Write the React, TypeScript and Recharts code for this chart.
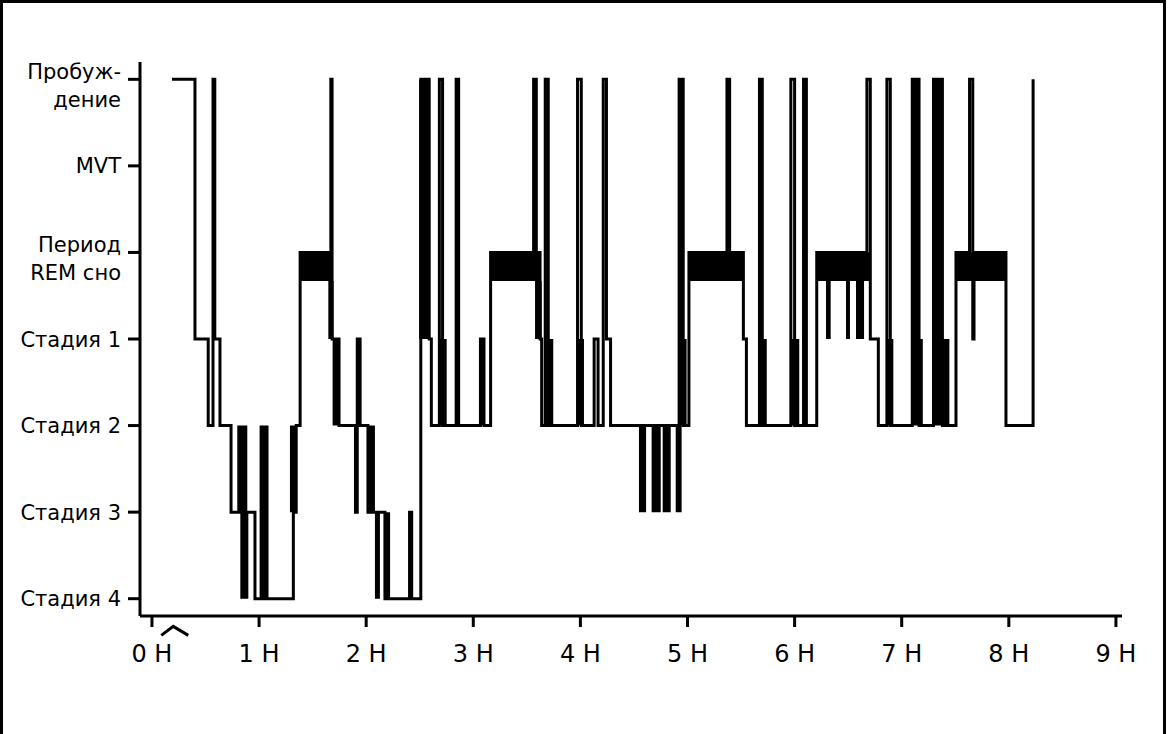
import React from 'react';
import { ComposedChart, Line, Area, XAxis, YAxis, ReferenceDot } from 'recharts';

// Hypnogram: time in minutes from start of recording, stage code
// 6 = Пробуждение, 5 = MVT, 4 = REM, 3 = Стадия 1, 2 = Стадия 2, 1 = Стадия 3, 0 = Стадия 4
const stageTimes = [
  11.2, 24.1, 31.5, 34.2, 35.2, 38.1, 44.3, 57.7, 79.2, 80.8,
  83.0, 100.2, 100.9, 104.8, 114.0, 115.0, 116.6, 121.0, 130.5, 144.3,
  145.5, 150.6, 155.3, 156.5, 161.0, 162.8, 170.4, 171.8, 184.0, 186.0,
  189.7, 213.8, 215.3, 217.4, 218.3, 220.3, 222.0, 238.4, 240.5, 247.7,
  249.9, 252.8, 254.6, 256.9, 295.3, 297.6, 300.8, 322.1, 323.6, 331.3,
  333.0, 340.3, 341.9, 357.9, 360.0, 365.0, 366.6, 372.4, 400.5, 402.4,
  406.9, 411.7, 413.6, 425.9, 429.7, 437.8, 442.8, 450.4, 458.0, 459.8,
  460.5, 478.4, 493.6,
];
const stageValues = [
  6, 3, 2, 6, 3, 2, 1, 0, 1, 2,
  4, 6, 3, 2, 1, 3, 2, 1, 0, 1,
  0, 6, 3, 2, 6, 2, 6, 2, 3, 2,
  4, 6, 4, 3, 2, 6, 2, 6, 2, 3,
  2, 6, 3, 2, 6, 2, 4, 6, 4, 3,
  2, 6, 2, 6, 2, 6, 2, 4, 6, 3,
  2, 6, 2, 6, 2, 6, 2, 4, 6, 3,
  4, 2, 6,
];

// REM periods (drawn as a thick band)
const remStart = [83.0, 189.7, 300.8, 372.4, 450.4];
const remEnd = [100.8, 217.4, 331.3, 402.6, 478.4];
const REM_LOW = 3.67;
const REM_HIGH = 4;

// Dense bursts of rapid stage changes (solid black blocks)
const burstStart = [47.8, 49.5, 60.3, 77.3, 98.8, 101.2, 121.0, 124.9, 130.5, 149.7, 161.0, 183.8, 213.6, 214.6, 221.0, 238.4, 272.8, 279.9, 286.1, 293.4, 295.3, 296.7, 340.3, 357.9, 377.6, 388.8, 394.4, 411.7, 425.8, 428.0, 437.7, 442.0];
const burstEnd = [53.4, 54.0, 65.3, 81.1, 101.7, 105.0, 124.9, 127.7, 133.4, 155.3, 165.1, 186.4, 215.5, 218.3, 224.8, 242.0, 276.8, 285.0, 290.6, 296.7, 297.6, 299.5, 344.4, 362.6, 380.2, 391.0, 398.9, 415.3, 429.9, 431.8, 443.0, 446.7];
const burstLow = [1, 0, 0, 1, 3, 2, 1, 0, 0, 3, 2, 2, 4, 3, 2, 2, 1, 1, 1, 1, 2, 2, 2, 2, 3, 3, 3, 2, 2, 2, 2, 2];
const burstHigh = [2, 1, 2, 2, 3.67, 3, 2, 1, 1, 6, 3, 3, 6, 3.67, 3, 3, 2, 2, 2, 2, 6, 3, 3, 3, 3.67, 3.67, 3.67, 3, 6, 3, 6, 3];

const hourTicks = [0, 60, 120, 180, 240, 300, 360, 420, 480, 540];
const hourLabels = ['0 H', '1 H', '2 H', '3 H', '4 H', '5 H', '6 H', '7 H', '8 H', '9 H'];
const stageTicks = [0, 1, 2, 3, 4, 5, 6];
const stageLabels = [
  ['Стадия 4'],
  ['Стадия 3'],
  ['Стадия 2'],
  ['Стадия 1'],
  ['Период', 'REM сно'],
  ['MVT'],
  ['Пробуж-', 'дение'],
];
const lightsOffTime = 12.5;

const FONT = '"DejaVu Sans", sans-serif';

const mainData = stageTimes.map((t, i) => ({ t, stage: stageValues[i] }));

const rects = [
  ...remStart.map((s, i) => ({ s, e: remEnd[i], lo: REM_LOW, hi: REM_HIGH })),
  ...burstStart.map((s, i) => ({ s, e: burstEnd[i], lo: burstLow[i], hi: burstHigh[i] })),
];
const bandData = rects.flatMap((r) => [
  { t: r.s, band: [r.lo, r.hi] },
  { t: r.e, band: [r.lo, r.hi] },
  { t: r.e, band: null },
]);

const YTick = (props: any) => {
  const { x, y, payload } = props;
  const lines = stageLabels[payload.value] || [];
  if (lines.length === 1) {
    return (
      <text x={x} y={y} dy={7.5} textAnchor="end" fontFamily={FONT} fontSize={21} fill="#000">
        {lines[0]}
      </text>
    );
  }
  return (
    <text x={x} y={y} textAnchor="end" fontFamily={FONT} fontSize={21} fill="#000">
      <tspan x={x} dy={0}>{lines[0]}</tspan>
      <tspan x={x} dy={28}>{lines[1]}</tspan>
    </text>
  );
};

const XTick = (props: any) => {
  const { x, y, payload } = props;
  const idx = hourTicks.indexOf(payload.value);
  return (
    <text x={x} y={y} dy={33} textAnchor="middle" fontFamily={FONT} fontSize={24} fill="#000">
      {hourLabels[idx]}
    </text>
  );
};

const Chevron = (p: any) => {
  const { cx, cy } = p;
  return (
    <path
      d={`M${cx - 13},${cy + 4.5} L${cx - 1},${cy - 4.5} L${cx + 14},${cy + 4.5}`}
      stroke="#000"
      strokeWidth={3}
      fill="none"
    />
  );
};

export default function App() {
  return (
    <div style={{ position: 'fixed', left: 0, top: 0, width: 1170, height: 734, background: '#fff', overflow: 'hidden' }}>
      <div
        style={{
          position: 'absolute',
          left: 0,
          top: 0,
          width: 1166,
          height: 760,
          borderLeft: '3px solid #000',
          borderTop: '3px solid #000',
          borderRight: '3px solid #000',
          boxSizing: 'border-box',
        }}
      />
      <div style={{ position: 'absolute', left: 0, top: 0 }}>
        <ComposedChart width={1170} height={734} margin={{ top: 62, right: 48, bottom: 88, left: 0 }}>
          <XAxis
            dataKey="t"
            type="number"
            domain={[-6.7, 543.4]}
            allowDataOverflow
            ticks={hourTicks}
            tick={<XTick />}
            tickSize={11}
            height={30}
            axisLine={{ stroke: '#000', strokeWidth: 3 }}
            tickLine={{ stroke: '#000', strokeWidth: 3 }}
            interval={0}
          />
          <YAxis
            type="number"
            domain={[-0.2, 6.2]}
            allowDataOverflow
            ticks={stageTicks}
            tick={<YTick />}
            tickSize={12}
            tickMargin={7}
            width={140}
            axisLine={{ stroke: '#000', strokeWidth: 3 }}
            tickLine={{ stroke: '#000', strokeWidth: 3 }}
            interval={0}
          />
          <Area
            data={bandData}
            dataKey="band"
            type="stepAfter"
            stroke="none"
            fill="#000"
            fillOpacity={1}
            isAnimationActive={false}
            connectNulls={false}
            activeDot={false}
            dot={false}
          />
          <Line
            data={mainData}
            dataKey="stage"
            type="stepAfter"
            stroke="#000"
            strokeWidth={3}
            dot={false}
            activeDot={false}
            isAnimationActive={false}
          />
          <ReferenceDot x={lightsOffTime} y={-0.372} r={0} ifOverflow="visible" shape={<Chevron />} />
        </ComposedChart>
      </div>
    </div>
  );
}
